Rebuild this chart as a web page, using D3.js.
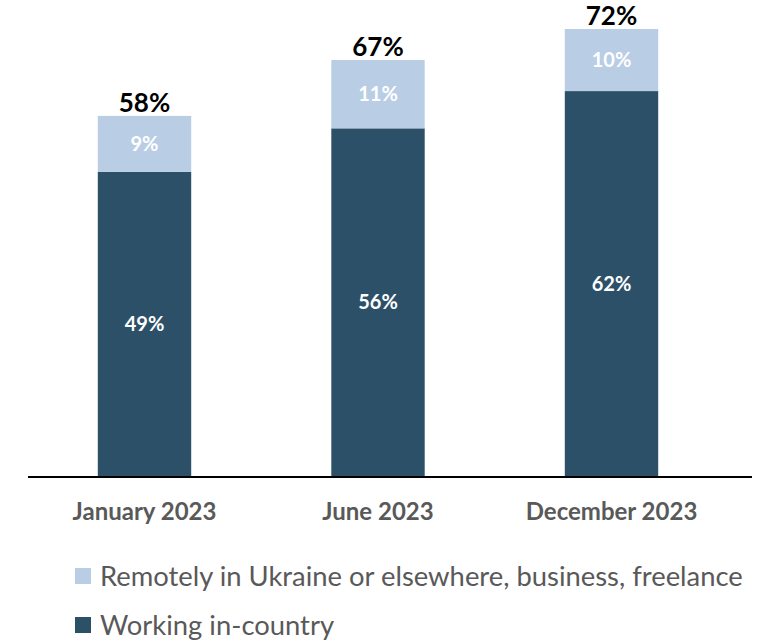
<!DOCTYPE html>
<html>
<head>
<meta charset="utf-8">
<script src="https://cdn.jsdelivr.net/npm/d3@7"></script>
<style>
  body { margin: 0; background: #fff; }
  text { font-family: Lato, "Open Sans", sans-serif; }
</style>
</head>
<body>
<div id="chart"></div>
<script>
const categories = ["January 2023", "June 2023", "December 2023"];
const inCountry = [49, 56, 62];
const remote = [9, 11, 10];
const totals = [58, 67, 72];
const seriesNames = ["Remotely in Ukraine or elsewhere, business, freelance", "Working in-country"];

const colors = { dark: "#2d5069", light: "#b9cde5" };

const svg = d3.select("#chart").append("svg")
    .attr("width", 763)
    .attr("height", 641);

const x = d3.scaleBand()
    .domain(categories)
    .range([27.75, 728.25])
    .paddingInner(0.6)
    .paddingOuter(0.3);

const y = d3.scaleLinear()
    .domain([0, 72])
    .range([476, 29]);

const data = categories.map((c, i) => ({cat: c, a: inCountry[i], b: remote[i], t: totals[i]}));

// dark segment
svg.selectAll(".dark").data(data).enter().append("rect")
    .attr("class", "dark")
    .attr("x", d => x(d.cat))
    .attr("width", x.bandwidth())
    .attr("y", d => y(d.a))
    .attr("height", d => y(0) - y(d.a))
    .attr("fill", colors.dark);

// light segment
svg.selectAll(".light").data(data).enter().append("rect")
    .attr("class", "light")
    .attr("x", d => x(d.cat))
    .attr("width", x.bandwidth())
    .attr("y", d => y(d.a + d.b))
    .attr("height", d => y(d.a) - y(d.a + d.b))
    .attr("fill", colors.light);

// labels inside
svg.selectAll(".lblA").data(data).enter().append("text")
    .attr("x", d => x(d.cat) + x.bandwidth() / 2)
    .attr("y", d => (y(0) + y(d.a)) / 2)
    .attr("dy", "0.35em")
    .attr("text-anchor", "middle")
    .attr("fill", "#fff")
    .style("font-size", "20px")
    .style("font-weight", "bold")
    .text(d => d.a + "%");

svg.selectAll(".lblB").data(data).enter().append("text")
    .attr("x", d => x(d.cat) + x.bandwidth() / 2)
    .attr("y", d => (y(d.a) + y(d.a + d.b)) / 2)
    .attr("dy", "0.35em")
    .attr("text-anchor", "middle")
    .attr("fill", "#fff")
    .style("font-size", "20px")
    .style("font-weight", "bold")
    .text(d => d.b + "%");

// totals
svg.selectAll(".tot").data(data).enter().append("text")
    .attr("x", d => x(d.cat) + x.bandwidth() / 2)
    .attr("y", d => y(d.t) - 4)
    .attr("text-anchor", "middle")
    .attr("fill", "#000")
    .style("font-size", "26px")
    .style("font-weight", "bold")
    .text(d => d.t + "%");

// x axis
const xAxis = d3.axisBottom(x).tickSize(0).tickPadding(27);
const gx = svg.append("g")
    .attr("transform", `translate(0,${y(0)})`)
    .call(xAxis);
gx.select(".domain").remove();
gx.selectAll("text")
    .attr("fill", "#595959")
    .style("font-size", "24px")
    .style("font-weight", "bold");

svg.append("line")
    .attr("x1", 28).attr("x2", 752)
    .attr("y1", y(0) + 1).attr("y2", y(0) + 1)
    .attr("stroke", "#000")
    .attr("stroke-width", 2);

// legend
const legend = svg.append("g");
const legItems = [
    {name: seriesNames[0], color: colors.light, yy: 576},
    {name: seriesNames[1], color: colors.dark, yy: 625}
];
legItems.forEach(d => {
    legend.append("rect")
        .attr("x", 75).attr("y", d.yy - 8)
        .attr("width", 16).attr("height", 16)
        .attr("fill", d.color);
    legend.append("text")
        .attr("x", 100).attr("y", d.yy)
        .attr("dy", "0.35em")
        .attr("fill", "#595959")
        .style("font-size", "27.4px")
        .text(d.name);
});
</script>
</body>
</html>
